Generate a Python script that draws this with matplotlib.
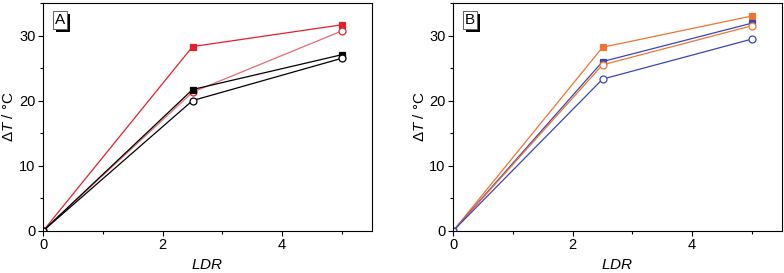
import matplotlib
matplotlib.use("Agg")
import matplotlib.pyplot as plt
import matplotlib.patheffects as pe
from matplotlib.ticker import MultipleLocator

plt.rcParams["font.family"] = ["Liberation Sans", "DejaVu Sans"]
plt.rcParams["mathtext.fontset"] = "custom"
plt.rcParams["mathtext.it"] = "Liberation Sans:italic"
plt.rcParams["mathtext.rm"] = "Liberation Sans"

# Data
ldr = [0, 2.5, 5]

# Panel A
a_red_sq = [0, 28.3, 31.65]
a_red_ci = [0, 21.3, 30.7]
a_blk_sq = [0, 21.7, 27.05]
a_blk_ci = [0, 20.0, 26.5]

# Panel B
b_org_sq = [0, 28.2, 33.0]
b_blu_sq = [0, 26.0, 31.9]
b_org_ci = [0, 25.5, 31.5]
b_blu_ci = [0, 23.3, 29.45]

panel_labels = ["A", "B"]

RED = "#e3202c"
RED_LINE = "#e46a78"
ORANGE = "#ee7533"
BLUE = "#3a45b5"

fig = plt.figure(figsize=(7.84, 2.73), dpi=100)
ax_a = fig.add_axes([0.0552, 0.155, 0.4189, 0.834])
ax_b = fig.add_axes([0.5782, 0.155, 0.4189, 0.834])


def series(ax, y, color, line_color, filled, marker):
    ax.plot(ldr, y, color=line_color, linewidth=0.9,
            marker=marker, markersize=4.5 if marker == "s" else 5,
            markerfacecolor=color if filled else "white",
            markeredgecolor=color, markeredgewidth=0.9)


series(ax_a, a_red_sq, RED, RED, True, "s")
series(ax_a, a_red_ci, RED, RED_LINE, False, "o")
series(ax_a, a_blk_sq, "black", "black", True, "s")
series(ax_a, a_blk_ci, "black", "black", False, "o")

series(ax_b, b_org_sq, ORANGE, ORANGE, True, "s")
series(ax_b, b_blu_sq, BLUE, BLUE, True, "s")
series(ax_b, b_org_ci, ORANGE, ORANGE, False, "o")
series(ax_b, b_blu_ci, BLUE, BLUE, False, "o")

for ax, lab in zip([ax_a, ax_b], panel_labels):
    ax.set_xlim(0, 5.5)
    ax.set_ylim(0, 35)
    ax.xaxis.set_major_locator(MultipleLocator(2))
    ax.xaxis.set_minor_locator(MultipleLocator(1))
    ax.yaxis.set_major_locator(MultipleLocator(10))
    ax.yaxis.set_minor_locator(MultipleLocator(5))
    ax.tick_params(which="both", direction="out", labelsize=10.5,
                   width=0.8, top=False, right=False)
    ax.tick_params(which="major", length=3.5, pad=2)
    ax.tick_params(which="minor", length=2.5)
    for s in ax.spines.values():
        s.set_linewidth(0.8)
    ax.set_xlabel(r"$\mathit{LDR}$", fontsize=11, labelpad=4)
    ax.set_ylabel(r"$\mathit{\Delta T}$ / °C", fontsize=11, labelpad=2)
    t = ax.text(0.035, 0.955, lab, transform=ax.transAxes, fontsize=11,
                ha="left", va="top",
                bbox=dict(boxstyle="square,pad=0.12", facecolor="white",
                          edgecolor="#555555", linewidth=0.6))
    t.get_bbox_patch().set_path_effects(
        [pe.withSimplePatchShadow(offset=(2, -2), shadow_rgbFace="black",
                                  alpha=1.0), pe.Normal()])

fig.savefig("out.png", dpi=100)
